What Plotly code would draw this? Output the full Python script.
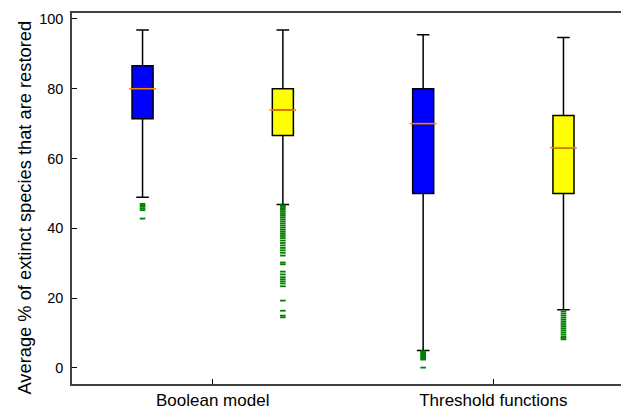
import plotly.graph_objects as go

# ---------------- data ----------------
groups = ["Boolean model", "Threshold functions"]

blue_q1 = [71.4, 50.0]
blue_median = [80.0, 70.0]
blue_q3 = [86.6, 80.0]
blue_low = [48.9, 5.0]
blue_high = [96.8, 95.5]

yellow_q1 = [66.6, 50.0]
yellow_median = [73.9, 63.1]
yellow_q3 = [80.0, 72.3]
yellow_low = [46.8, 16.7]
yellow_high = [96.8, 94.7]

blue_outliers = [
    [47.0, 46.6, 46.2, 45.7, 45.2, 42.8],
    [4.8, 4.5, 4.2, 3.9, 3.6, 3.3, 3.0, 2.7, 2.4, 0.1],
]
yellow_outliers = [
    [46.6, 46.2, 45.8, 45.3, 44.8, 44.3, 43.8, 43.2, 42.6, 42.0, 41.4, 40.8,
     40.2, 39.6, 39.0, 38.4, 37.8, 37.2, 36.5, 35.8, 35.1, 34.4, 33.7, 33.0,
     32.2, 30.2, 29.7, 27.6, 26.8, 26.0, 25.4, 24.8, 24.2, 23.4, 19.3, 16.4,
     15.0, 14.5],
    [16.2, 15.6, 15.0, 14.4, 13.8, 13.2, 12.6, 12.0, 11.4, 10.8, 10.2, 9.6,
     9.0, 8.6, 8.2],
]

y_ticks = [0, 20, 40, 60, 80, 100]
y_title = "Average % of extinct species that are restored"

# ---------------- style ----------------
FONT = "Liberation Sans, Arial, sans-serif"
OFFSET = 0.25
BOX_W = 0.075
positions = [i + 1 for i in range(len(groups))]

fig = go.Figure()


def add_series(offset, q1, med, q3, lo, hi, outl, color):
    xs = [p + offset for p in positions]
    fig.add_trace(go.Box(
        x=xs, q1=q1, median=med, q3=q3, lowerfence=lo, upperfence=hi,
        width=BOX_W, whiskerwidth=0.6, boxpoints=False,
        fillcolor=color, line=dict(color="black", width=1.5),
        showlegend=False, hoverinfo="skip",
    ))
    # orange median line
    fig.add_trace(go.Scatter(
        x=xs, y=med, mode="markers",
        marker=dict(symbol="line-ew", size=19,
                    line=dict(color="#FF8000", width=1.6)),
        showlegend=False, hoverinfo="skip",
    ))
    # outliers
    ox, oy = [], []
    for x, vals in zip(xs, outl):
        ox += [x] * len(vals)
        oy += vals
    fig.add_trace(go.Scatter(
        x=ox, y=oy, mode="markers",
        marker=dict(symbol="line-ew", size=4,
                    line=dict(color="#008000", width=1.8)),
        showlegend=False, hoverinfo="skip",
    ))


add_series(-OFFSET, blue_q1, blue_median, blue_q3, blue_low, blue_high,
           blue_outliers, "#0000FF")
add_series(OFFSET, yellow_q1, yellow_median, yellow_q3, yellow_low,
           yellow_high, yellow_outliers, "#FFFF00")

fig.update_layout(
    width=621, height=411,
    margin=dict(l=72, r=0, t=13, b=27),
    paper_bgcolor="white", plot_bgcolor="white",
    font=dict(family=FONT, color="black"),
    xaxis=dict(
        range=[0.4986, 2.455], tickmode="array", tickvals=positions,
        ticktext=groups, ticks="inside", ticklen=5, tickcolor="black",
        showline=True, linecolor="#404040", linewidth=1.5, mirror=True,
        showgrid=False, zeroline=False, tickfont=dict(size=17),
    ),
    yaxis=dict(
        range=[-4.6, 101.7], tickvals=y_ticks, ticks="inside", ticklen=5,
        tickcolor="black", showline=True, linecolor="#404040", linewidth=1.5,
        mirror=False, showgrid=False, zeroline=False,
        tickfont=dict(size=14.5), ticklabelstandoff=4,
    ),
    annotations=[dict(
        text=y_title, textangle=-90, xref="paper", yref="paper",
        x=-0.0874, y=0.4757, xanchor="center", yanchor="middle",
        showarrow=False, font=dict(size=18.3),
    )],
)

fig.write_html("out.html")
